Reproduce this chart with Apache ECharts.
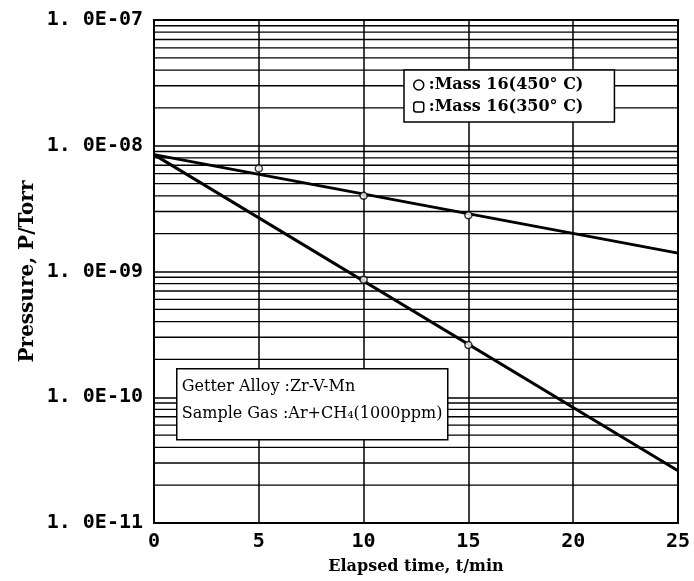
<!DOCTYPE html>
<html>
<head>
<meta charset="utf-8">
<script src="https://cdn.jsdelivr.net/npm/echarts@6/dist/echarts.min.js"></script>
<style>html,body{margin:0;padding:0;background:#fff}#c{width:694px;height:581px}</style>
</head>
<body>
<div id="c"></div>
<script>
// ---- data ----
const fitT = [0, 25];
const fit450 = [8.5e-9, 2.6e-11];   // steep line
const fit350 = [8.5e-9, 1.4e-9];    // shallow line
const pointT450 = [10, 15];
const point450 = [8.6e-10, 2.6e-10];
const pointT350 = [5, 10, 15];
const point350 = [6.6e-9, 4.0e-9, 2.8e-9];
const decades = [1e-11, 1e-10, 1e-9, 1e-8];
const minorMult = [2, 3, 4, 5, 6, 7, 8, 9];
const xTicks = [0, 5, 10, 15, 20, 25];
const seriesNames = ['Mass 16(450° C)', 'Mass 16(350° C)'];
const noteLines = ['Getter Alloy :Zr-V-Mn', 'Sample Gas :Ar+CH₄(1000ppm)'];

const minorValues = [];
decades.forEach(d => minorMult.forEach(m => minorValues.push(d * m)));

const tickFont = "'DejaVu Sans Mono', 'Liberation Mono', monospace";
const serif = "'DejaVu Serif', 'Liberation Serif', serif";

function fmtY(v) {
  const e = Math.round(Math.log10(v));
  const a = Math.abs(e);
  return '1. 0E' + (e < 0 ? '-' : '+') + (a < 10 ? '0' + a : '' + a);
}

const minorSeries = minorValues.map(v => ({
  type: 'line', silent: true, symbol: 'none', z: 1,
  data: [[xTicks[0], v], [xTicks[xTicks.length - 1], v]],
  lineStyle: { color: '#000', width: 1.3 }
}));

const chart = echarts.init(document.getElementById('c'), null, { renderer: 'canvas' });
chart.setOption({
  animation: false,
  backgroundColor: '#fff',
  grid: { left: 154, right: 16, top: 20, bottom: 58, containLabel: false, outerBoundsMode: 'none',
          show: true, borderColor: '#000', borderWidth: 2, backgroundColor: 'transparent' },
  xAxis: {
    type: 'value', min: xTicks[0], max: xTicks[xTicks.length - 1], interval: 5,
    axisLine: { show: true, lineStyle: { color: '#000', width: 2 } },
    axisTick: { show: false },
    splitLine: { show: true, lineStyle: { color: '#000', width: 1.5 } },
    axisLabel: { color: '#000', fontFamily: tickFont, fontWeight: 'bold', fontSize: 20, margin: 9 },
    name: 'Elapsed time, t/min', nameLocation: 'middle', nameGap: 36, nameMoveOverlap: false,
    nameTextStyle: { color: '#000', fontFamily: serif, fontWeight: 'bold', fontSize: 16 }
  },
  yAxis: {
    type: 'log', logBase: 10, min: 1e-11, max: 1e-7,
    axisLine: { show: true, lineStyle: { color: '#000', width: 2 } },
    axisTick: { show: false },
    splitLine: { show: true, lineStyle: { color: '#000', width: 1.5 } },
    axisLabel: { color: '#000', fontFamily: tickFont, fontWeight: 'bold', fontSize: 20, margin: 11, formatter: fmtY },
    name: 'Pressure, P/Torr', nameLocation: 'middle', nameGap: 116, nameMoveOverlap: false,
    nameTextStyle: { color: '#000', fontFamily: serif, fontWeight: 'bold', fontSize: 20 }
  },
  legend: {
    orient: 'vertical', left: 404, top: 70, z: 20,
    backgroundColor: '#fff', borderColor: '#000', borderWidth: 1.5,
    padding: [7, 31, 7, 9], itemGap: 6, itemWidth: 10, itemHeight: 10,
    formatter: n => ':' + n,
    textStyle: { color: '#000', fontFamily: serif, fontWeight: 'bold', fontSize: 16 },
    data: [
      { name: seriesNames[0], icon: 'circle', itemStyle: { color: '#fff', borderColor: '#000', borderWidth: 1.5 } },
      { name: seriesNames[1], icon: 'roundRect', itemStyle: { color: '#fff', borderColor: '#000', borderWidth: 1.5 } }
    ]
  },
  graphic: [{
    type: 'group', left: 176, top: 368, z: 100,
    children: [
      { type: 'rect', z: 100, shape: { x: 0, y: 0, width: 271, height: 71 }, style: { fill: '#fff', stroke: '#000', lineWidth: 1.5 } },
      { type: 'text', z: 101, x: 5, y: 18, style: { text: noteLines[0], fill: '#000', font: "16px 'DejaVu Serif', serif", textVerticalAlign: 'middle' } },
      { type: 'text', z: 101, x: 5, y: 45, style: { text: noteLines[1], fill: '#000', font: "16px 'DejaVu Serif', serif", textVerticalAlign: 'middle' } }
    ]
  }],
  series: minorSeries.concat([
    {
      name: seriesNames[0], type: 'line', data: fitT.map((t, i) => [t, fit450[i]]),
      symbol: 'none', lineStyle: { color: '#000', width: 3 }, z: 5
    },
    {
      name: seriesNames[1], type: 'line', data: fitT.map((t, i) => [t, fit350[i]]),
      symbol: 'none', lineStyle: { color: '#000', width: 3 }, z: 5
    },
    {
      name: seriesNames[0] + ' pts', type: 'scatter', data: pointT450.map((t, i) => [t, point450[i]]),
      symbol: 'circle', symbolSize: 7, itemStyle: { color: '#fff', borderColor: '#000', borderWidth: 1.5 }, z: 6
    },
    {
      name: seriesNames[1] + ' pts', type: 'scatter', data: pointT350.map((t, i) => [t, point350[i]]),
      symbol: 'circle', symbolSize: 7, itemStyle: { color: '#fff', borderColor: '#000', borderWidth: 1.5 }, z: 6
    }
  ])
});
</script>
</body>
</html>
